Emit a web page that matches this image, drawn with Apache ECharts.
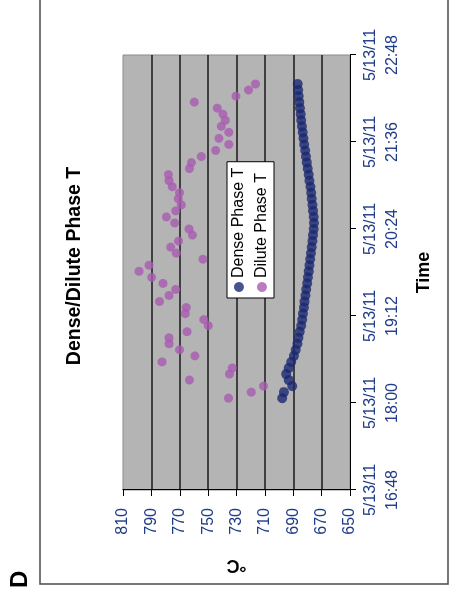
<!DOCTYPE html>
<html>
<head>
<meta charset="utf-8">
<script src="https://cdn.jsdelivr.net/npm/echarts@6/dist/echarts.min.js"></script>
<style>
  html, body { margin: 0; padding: 0; background: #fff; overflow: hidden; width: 452px; height: 594px; }
  /* the chart is laid out landscape and turned a quarter turn counter-clockwise */
  #chart { position: absolute; left: 0; top: 0; width: 594px; height: 452px;
           transform-origin: 0 0; transform: translate(0, 594px) rotate(-90deg); }
</style>
</head>
<body>
<div id="chart"></div>
<script>
// Run date and 5-minute sample times
const runDate = '5/13/11';
const times = [
  '18:04','18:09','18:14','18:19','18:24','18:29','18:34','18:39','18:44','18:49',
  '18:54','18:59','19:04','19:09','19:14','19:19','19:24','19:29','19:34','19:39',
  '19:44','19:49','19:54','19:59','20:04','20:09','20:14','20:19','20:24','20:29',
  '20:34','20:39','20:44','20:49','20:54','20:59','21:04','21:09','21:14','21:19',
  '21:24','21:29','21:34','21:39','21:44','21:49','21:54','21:59','22:04','22:09',
  '22:14','22:19','22:24'
];
// Dense phase temperature, °C
const denseT = [
  697.8, 696.6, 690.7, 693.1, 695.0, 693.1, 691.4, 689.5, 688.3, 687.0,
  686.3, 685.4, 684.3, 683.7, 683.1, 682.5, 682.0, 681.4, 680.8, 680.2,
  679.6, 679.0, 678.5, 678.0, 677.5, 677.0, 676.5, 676.0, 675.6, 675.4,
  675.6, 676.0, 676.5, 676.9, 677.4, 677.9, 678.5, 679.1, 679.8, 680.4,
  681.0, 681.6, 682.2, 682.8, 683.3, 683.8, 684.3, 684.8, 685.2, 685.7,
  686.1, 686.5, 686.9
];
// Dilute phase temperature, °C
const diluteT = [
  735.6, 719.6, 710.9, 763.2, 734.9, 733.0, 782.5, 759.3, 770.1, 777.6,
  777.6, 764.9, 749.9, 753.0, 766.1, 765.4, 784.2, 777.6, 772.9, 781.8,
  789.8, 798.7, 791.7, 753.7, 772.4, 776.4, 770.8, 761.1, 763.5, 773.6,
  779.4, 772.9, 768.9, 771.0, 770.1, 775.2, 777.6, 778.0, 763.2, 761.8,
  754.8, 744.7, 735.4, 742.4, 735.4, 740.7, 737.9, 739.6, 743.5, 759.7,
  730.4, 721.5, 716.6
];
// Axis ticks
const timeTicks = ['16:48', '18:00', '19:12', '20:24', '21:36', '22:48'];
const tempTicks = [650, 670, 690, 710, 730, 750, 770, 790, 810];

const FONT = '"Liberation Sans", Arial, sans-serif';
const toMin = s => { const p = s.split(':'); return (+p[0]) * 60 + (+p[1]); };
const pad = n => (n < 10 ? '0' : '') + n;
const toClock = m => Math.floor(m / 60) + ':' + pad(Math.round(m % 60));

const chart = echarts.init(document.getElementById('chart'), null, { renderer: 'canvas' });

chart.setOption({
  animation: false,
  backgroundColor: '#ffffff',
  title: {
    text: 'Dense/Dilute Phase T',
    left: 323, top: 60, textAlign: 'center',
    textStyle: { fontFamily: FONT, fontSize: 19.5, fontWeight: 'bold', color: '#000' }
  },
  graphic: [
    { type: 'rect', silent: true, z: -1,
      shape: { x: 10, y: 40, width: 620, height: 408 },
      style: { fill: 'none', stroke: '#4a4a4a', lineWidth: 1.5 } },
    { type: 'text', silent: true, left: 6, top: 8,
      style: { text: 'D', font: 'bold 24px ' + FONT, fill: '#000' } }
  ],
  legend: {
    orient: 'vertical',
    left: 296, top: 227,
    padding: [4, 6, 4, 6],
    itemGap: 7,
    itemWidth: 10, itemHeight: 10,
    icon: 'circle',
    backgroundColor: '#ffffff',
    borderColor: '#000000', borderWidth: 1,
    textStyle: { fontFamily: FONT, fontSize: 16, color: '#000', padding: [0, 0, 0, -1] },
    data: ['Dense Phase T', 'Dilute Phase T']
  },
  grid: {
    left: 104, right: 55, top: 123, bottom: 102,
    show: true, backgroundColor: '#b4b4b4', borderColor: '#8c8c8c', borderWidth: 1,
    containLabel: false, outerBoundsMode: 'none'
  },
  xAxis: {
    type: 'value',
    min: toMin(timeTicks[0]),
    max: toMin(timeTicks[timeTicks.length - 1]),
    interval: toMin(timeTicks[1]) - toMin(timeTicks[0]),
    name: 'Time', nameLocation: 'middle', nameGap: 65,
    nameTextStyle: { fontFamily: FONT, fontSize: 18, fontWeight: 'bold', color: '#000' },
    axisLine: { show: true, onZero: false, lineStyle: { color: '#000', width: 1 } },
    axisTick: { show: true, inside: false, length: 6, lineStyle: { color: '#000' } },
    splitLine: { show: false },
    axisLabel: {
      margin: 10, fontFamily: FONT, fontSize: 16, lineHeight: 22, color: '#1f3c88',
      formatter: v => runDate + '\n' + toClock(v)
    }
  },
  yAxis: {
    type: 'value',
    min: tempTicks[0], max: tempTicks[tempTicks.length - 1],
    interval: tempTicks[1] - tempTicks[0],
    name: '°C', nameLocation: 'middle', nameGap: 66,
    nameTextStyle: { fontFamily: FONT, fontSize: 18, fontWeight: 'bold', color: '#000' },
    axisLine: { show: true, onZero: false, lineStyle: { color: '#000', width: 1 } },
    axisTick: { show: true, inside: false, length: 6, lineStyle: { color: '#000' } },
    splitLine: { show: true, showMinLine: false, showMaxLine: false,
                 lineStyle: { color: '#1a1a1a', width: 1.6 } },
    axisLabel: { margin: 18, fontFamily: FONT, fontSize: 16, color: '#1f3c88' }
  },
  series: [
    {
      name: 'Dense Phase T', type: 'scatter', symbol: 'circle', symbolSize: 10,
      itemStyle: { color: '#1c2870' },
      data: times.map((t, i) => [toMin(t), denseT[i]])
    },
    {
      name: 'Dilute Phase T', type: 'scatter', symbol: 'circle', symbolSize: 9,
      itemStyle: { color: '#a95bb0' },
      data: times.map((t, i) => [toMin(t), diluteT[i]])
    }
  ]
});
</script>
</body>
</html>
